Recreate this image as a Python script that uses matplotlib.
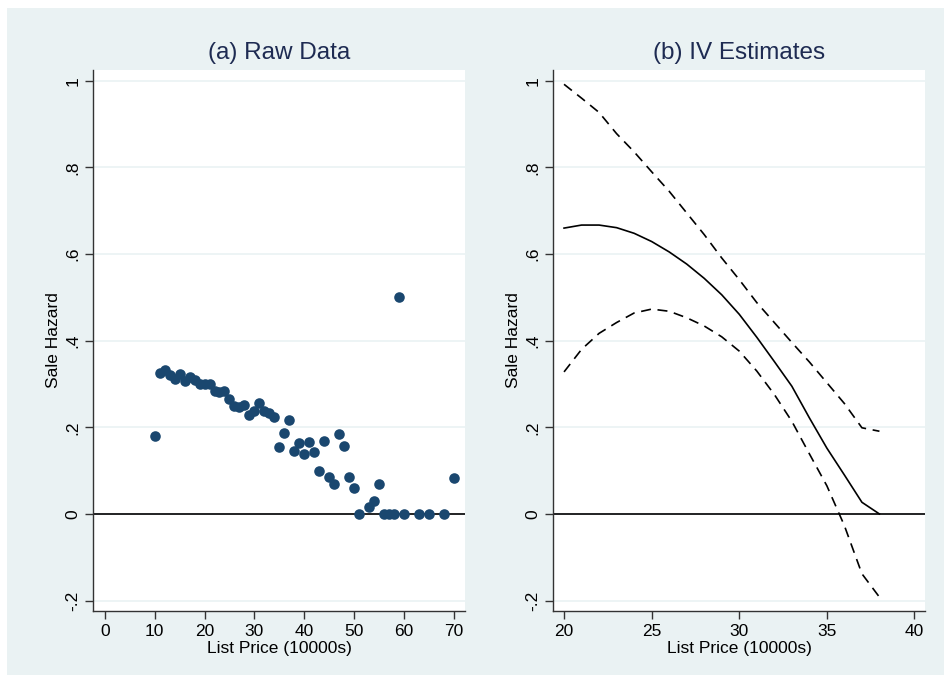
# sale hazard vs list price: raw binned data and IV estimates with 95% band
import numpy as np
import matplotlib
matplotlib.use("Agg")
from matplotlib import pyplot as plt
from matplotlib.patches import Rectangle

plt.rcParams['font.family'] = ['Liberation Sans', 'DejaVu Sans']

BG = '#eaf2f3'
NAVY = '#1a476f'
TITLE = '#1e2b52'

# (a) raw data: list price bin (10000s) and share sold
raw_price = [10, 11, 12, 13, 14, 15, 16, 17, 18, 19, 20, 21, 22, 23, 24, 25, 26, 27,
             28, 29, 30, 31, 32, 33, 34, 35, 36, 37, 38, 39, 40, 41, 42, 43, 44, 45,
             46, 47, 48, 49, 50, 51, 53, 54, 55, 56, 57, 58, 59, 60, 63, 65, 68, 70]
raw_hazard = [0.179, 0.325, 0.333, 0.321, 0.312, 0.324, 0.307, 0.317, 0.310, 0.300,
              0.300, 0.299, 0.283, 0.282, 0.283, 0.265, 0.250, 0.247, 0.252, 0.229,
              0.237, 0.257, 0.238, 0.232, 0.223, 0.154, 0.188, 0.216, 0.146, 0.163,
              0.138, 0.166, 0.144, 0.099, 0.168, 0.086, 0.069, 0.185, 0.158, 0.086,
              0.059, 0.0, 0.015, 0.030, 0.070, 0.0, 0.0, 0.0, 0.50, 0.0,
              0.0, 0.0, 0.0, 0.083]

# (b) IV estimates with upper / lower bounds
iv_price = list(range(20, 39))
iv_est = [0.660, 0.667, 0.667, 0.661, 0.648, 0.629, 0.605, 0.577, 0.544, 0.506,
          0.461, 0.408, 0.352, 0.295, 0.222, 0.152, 0.090, 0.027, 0.0]
iv_upper = [0.992, 0.960, 0.927, 0.878, 0.836, 0.790, 0.745, 0.695, 0.645, 0.591,
            0.541, 0.488, 0.442, 0.396, 0.351, 0.303, 0.255, 0.199, 0.191]
iv_lower = [0.328, 0.380, 0.417, 0.442, 0.464, 0.473, 0.468, 0.453, 0.434, 0.409,
            0.376, 0.330, 0.276, 0.214, 0.139, 0.065, -0.027, -0.138, -0.192]

yticks = [-0.2, 0, 0.2, 0.4, 0.6, 0.8, 1]
ylabels = ['-.2', '0', '.2', '.4', '.6', '.8', '1']

fig = plt.figure(figsize=(9.45, 6.75), dpi=100, facecolor='white')
bg = Rectangle((7/945, 0), 938/945, 667/675, transform=fig.transFigure,
               facecolor=BG, edgecolor='none', zorder=-10)
fig.patches.append(bg)

ax1 = fig.add_axes([93/945, 1 - 611/675, 372/945, 541/675])
ax2 = fig.add_axes([553/945, 1 - 611/675, 372/945, 541/675])


def style(ax, title):
    ax.set_facecolor('white')
    for s in ['top', 'right']:
        ax.spines[s].set_visible(False)
    for s in ['left', 'bottom']:
        ax.spines[s].set_color('#333333')
        ax.spines[s].set_linewidth(1.0)
    ax.set_ylim(-0.224, 1.025)
    ax.set_yticks(yticks)
    ax.set_yticklabels(ylabels, rotation=90, va='center')
    for y in yticks:
        ax.axhline(y, color=BG, lw=1.2, zorder=0.5)
    ax.axhline(0, color='black', lw=1.2, zorder=2)
    ax.tick_params(length=6, width=1, color='#333333', labelsize=12.5, pad=3)
    ax.set_ylabel('Sale Hazard', fontsize=12.5, labelpad=3)
    ax.set_xlabel('List Price (10000s)', fontsize=12.5, labelpad=2)
    ax.set_title(title, fontsize=17.5, color=TITLE, pad=8)


style(ax1, '(a) Raw Data')
ax1.scatter(raw_price, raw_hazard, s=58, color=NAVY, zorder=3, linewidths=0)
ax1.set_xlim(-2.4, 72.3)
ax1.set_xticks(range(0, 71, 10))

style(ax2, '(b) IV Estimates')
ax2.plot(iv_price, iv_est, color='black', lw=1.2, zorder=3)
ax2.plot(iv_price, iv_upper, color='black', lw=1.2, dashes=(6, 4), zorder=3)
ax2.plot(iv_price, iv_lower, color='black', lw=1.2, dashes=(6, 4), zorder=3)
ax2.set_xlim(19.37, 40.6)
ax2.set_xticks(range(20, 41, 5))

plt.savefig('out.png', dpi=100, facecolor=fig.get_facecolor())
